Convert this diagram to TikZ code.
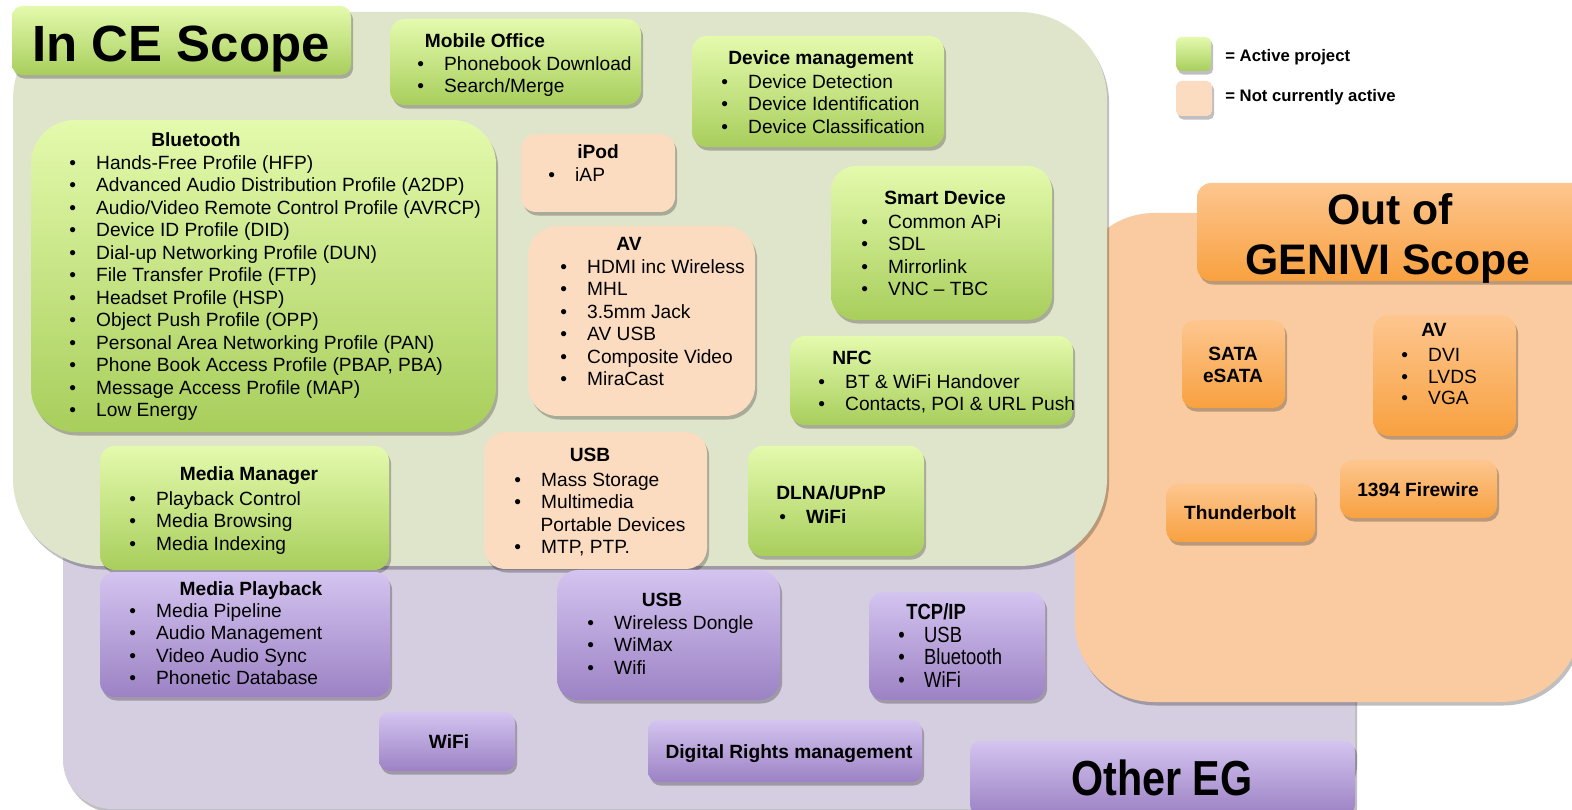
\documentclass[tikz,border=0pt]{standalone}
\usepackage{fontspec}
\setmainfont{Liberation Sans}
\newfontfamily\narrowf[FakeStretch=0.84]{Liberation Sans}
\usetikzlibrary{fit,shadows}
\definecolor{gtop}{HTML}{E4FAAD}
\definecolor{gbot}{HTML}{A8CE5C}
\definecolor{peach}{HTML}{FCDCC1}
\definecolor{otop}{HTML}{FDC68F}
\definecolor{obot}{HTML}{F8A140}
\definecolor{ptop}{HTML}{D4C4F0}
\definecolor{pbot}{HTML}{9C82C4}
\definecolor{rgreen}{HTML}{DFE5CB}
\definecolor{rpurple}{HTML}{D5CDE0}
\definecolor{rorange}{HTML}{FACBA0}
\newcommand\fs{\rule{0pt}{10pt}}
\newcommand\bl[1]{\makebox[15.3pt][l]{\textbullet}#1}
\tikzset{
  shad/.style={drop shadow={shadow xshift=1.2pt, shadow yshift=-2pt, opacity=0.25, fill=black}},
  region/.style={inner sep=0, draw=none, shad},
  gbox/.style={inner sep=0, draw=none, rounded corners=8.5pt, top color=gtop, bottom color=gbot, shad},
  pebox/.style={inner sep=0, draw=none, rounded corners=8.5pt, fill=peach, shad},
  obox/.style={inner sep=0, draw=none, rounded corners=7pt, top color=otop, bottom color=obot, shad},
  pubox/.style={inner sep=0, draw=none, rounded corners=8.5pt, top color=ptop, bottom color=pbot, shad},
  txt/.style={inner sep=0, font=\fontsize{10.9}{12.8}\selectfont, align=left},
  ttl/.style={inner sep=0, font=\fontsize{10.9}{12.8}\selectfont\bfseries},
  ntxt/.style={inner sep=0, font=\fontsize{12.5}{12.75}\selectfont\narrowf, align=left},
}
\begin{document}
\begin{tikzpicture}[x=0.02cm,y=-0.02cm]
\useasboundingbox (0,0) rectangle (1572,810);
\fill[white] (0,0) rectangle (1572,810);
% regions
\node[region, fill=rpurple, rounded corners=28pt, fit={(63,470) (1355,809)}] (rp) {};
\node[region, fill=rorange, rounded corners=45pt, fit={(1075,213) (1580,702)}] (ro) {};
\node[region, fill=rgreen, rounded corners=50pt, fit={(13,12) (1107,566)}] (rg) {};
% titles
\node[gbox, rounded corners=6pt, fit={(12,6) (351,75)}] (tce) {};
\node[inner sep=0, anchor=base, font=\fontsize{29}{30}\selectfont\bfseries] (tcet) at (181,62) {In CE Scope};
\node[obox, rounded corners=8pt, fit={(1197,183) (1600,281)}] (tout) {};
\node[inner sep=0, anchor=base, font=\fontsize{24.3}{28}\selectfont\bfseries] (tout1) at (1390,225) {Out of};
\node[inner sep=0, anchor=base, font=\fontsize{24.3}{28}\selectfont\bfseries] (tout2) at (1388,275) {GENIVI Scope};
\node[pubox, rounded corners=6pt, fit={(970,741) (1355,815)}] (toth) {};
\node[inner sep=0, anchor=base, font=\fontsize{28}{30}\selectfont\narrowf\bfseries] (totht) at (1162,795) {Other EG};
% legend
\node[gbox, rounded corners=3pt, fit={(1176,37) (1211,71)}] (lg) {};
\node[pebox, rounded corners=3pt, fit={(1176,81) (1212,116)}] (lp) {};
\node[inner sep=0, anchor=base west, font=\fontsize{9.5}{11}\selectfont\bfseries] (lgt) at (1225,62) {= Active project};
\node[inner sep=0, anchor=base west, font=\fontsize{9.5}{11}\selectfont\bfseries] (lpt) at (1225,102) {= Not currently active};
% green boxes
\node[gbox, fit={(390,19) (641,105)}] (mob) {};
\node[ttl, anchor=base] (mobt) at (485,48) {Mobile Office};
\node[txt, anchor=north west] (mobl) at (417,52.4) {\fs\bl{Phonebook Download}\\\bl{Search/Merge}};
\node[gbox, fit={(692,36) (944,147)}] (dev) {};
\node[ttl, anchor=base] (devt) at (821,65) {Device management};
\node[txt, anchor=north west] (devl) at (721,70.4) {\fs\bl{Device Detection}\\\bl{Device Identification}\\\bl{Device Classification}};
\node[gbox, rounded corners=25pt, fit={(31,120) (496,432)}] (bt) {};
\node[ttl, anchor=base] (btt) at (196,147) {Bluetooth};
\node[txt, anchor=north west] (btl) at (69,151.4) {\fs\bl{Hands-Free Profile (HFP)}\\\bl{Advanced Audio Distribution Profile (A2DP)}\\\bl{Audio/Video Remote Control Profile (AVRCP)}\\\bl{Device ID Profile (DID)}\\\bl{Dial-up Networking Profile (DUN)}\\\bl{File Transfer Profile (FTP)}\\\bl{Headset Profile (HSP)}\\\bl{Object Push Profile (OPP)}\\\bl{Personal Area Networking Profile (PAN)}\\\bl{Phone Book Access Profile (PBAP, PBA)}\\\bl{Message Access Profile (MAP)}\\\bl{Low Energy}};
\node[gbox, rounded corners=14pt, fit={(831,166) (1052,320)}] (sd) {};
\node[ttl, anchor=base] (sdt) at (945,205) {Smart Device};
\node[txt, anchor=north west] (sdl) at (861,210.4) {\fs\bl{Common APi}\\\bl{SDL}\\\bl{Mirrorlink}\\\bl{VNC – TBC}};
\node[gbox, fit={(790,336) (1073,425)}] (nfc) {};
\node[ttl, anchor=base west] (nfct) at (832,365) {NFC};
\node[txt, anchor=north west] (nfcl) at (818,370.4) {\fs\bl{BT \& WiFi Handover}\\\bl{Contacts, POI \& URL Push}};
\node[gbox, fit={(100,446) (389,570)}] (mm) {};
\node[ttl, anchor=base] (mmt) at (249,481) {Media Manager};
\node[txt, anchor=north west] (mml) at (129,487.4) {\fs\bl{Playback Control}\\\bl{Media Browsing}\\\bl{Media Indexing}};
\node[gbox, fit={(748,446) (924,556)}] (dl) {};
\node[ttl, anchor=base west] (dlt) at (776,500) {DLNA/UPnP};
\node[txt, anchor=north west, font=\fontsize{10.9}{12.8}\selectfont\bfseries] (dll) at (779,505.4) {\fs\makebox[15.3pt][l]{\mdseries\textbullet}WiFi};
% peach boxes
\node[pebox, fit={(521,134) (675,212)}] (ip) {};
\node[ttl, anchor=base] (ipt) at (598,159) {iPod};
\node[txt, anchor=north west] (ipl) at (548,163.4) {\fs\bl{iAP}};
\node[pebox, rounded corners=17pt, fit={(528,226) (755,416)}] (av) {};
\node[ttl, anchor=base] (avt) at (629,251) {AV};
\node[txt, anchor=north west] (avl) at (560,255.4) {\fs\bl{HDMI inc Wireless}\\\bl{MHL}\\\bl{3.5mm Jack}\\\bl{AV USB}\\\bl{Composite Video}\\\bl{MiraCast}};
\node[pebox, rounded corners=12pt, fit={(484,432) (707,569)}] (us) {};
\node[ttl, anchor=base] (ust) at (590,462) {USB};
\node[txt, anchor=north west] (usl) at (514,468.4) {\fs\bl{Mass Storage}\\\bl{Multimedia}\\\makebox[15pt][l]{}Portable Devices\\\bl{MTP, PTP.}};
% orange boxes
\node[obox, fit={(1182,320) (1285,408)}] (sa) {};
\node[ttl, align=center] (sat) at (1233,365) {SATA\\eSATA};
\node[obox, rounded corners=9pt, fit={(1373,315) (1516,436)}] (oav) {};
\node[ttl, anchor=base] (oavt) at (1434,337) {AV};
\node[txt, anchor=north west, font=\fontsize{10.9}{12.4}\selectfont] (oavl) at (1401,343.4) {\fs\bl{DVI}\\\bl{LVDS}\\\bl{VGA}};
\node[obox, fit={(1166,484) (1315,542)}] (tb) {};
\node[ttl, anchor=base] (tbt) at (1240,520) {Thunderbolt};
\node[obox, fit={(1340,460) (1497,518)}] (fw) {};
\node[ttl, anchor=base] (fwt) at (1418,497) {1394 Firewire};
% purple boxes
\node[pubox, fit={(100,572) (390,697)}] (mp) {};
\node[ttl, anchor=base] (mpt) at (251,595) {Media Playback};
\node[txt, anchor=north west] (mpl) at (129,599.4) {\fs\bl{Media Pipeline}\\\bl{Audio Management}\\\bl{Video Audio Sync}\\\bl{Phonetic Database}};
\node[pubox, rounded corners=12pt, fit={(557,570) (780,700)}] (pu) {};
\node[ttl, anchor=base] (put) at (662,606) {USB};
\node[txt, anchor=north west] (pul) at (587,611.4) {\fs\bl{Wireless Dongle}\\\bl{WiMax}\\\bl{Wifi}};
\node[pubox, fit={(869,592) (1045,700)}] (tc) {};
\node[inner sep=0, anchor=base west, font=\fontsize{12.5}{12.75}\selectfont\narrowf\bfseries] (tct) at (906,619) {TCP/IP};
\node[ntxt, anchor=north west] (tcl) at (898,624.4) {\fs\makebox[14.7pt][l]{\textbullet}USB\\\makebox[14.7pt][l]{\textbullet}Bluetooth\\\makebox[14.7pt][l]{\textbullet}WiFi};
\node[pubox, rounded corners=6pt, fit={(379,712) (515,771)}] (wf) {};
\node[ttl, anchor=base] (wft) at (449,748) {WiFi};
\node[pubox, rounded corners=6pt, fit={(648,720) (922,782)}] (dr) {};
\node[ttl, anchor=base] (drt) at (789,758) {Digital Rights management};
\end{tikzpicture}
\end{document}
